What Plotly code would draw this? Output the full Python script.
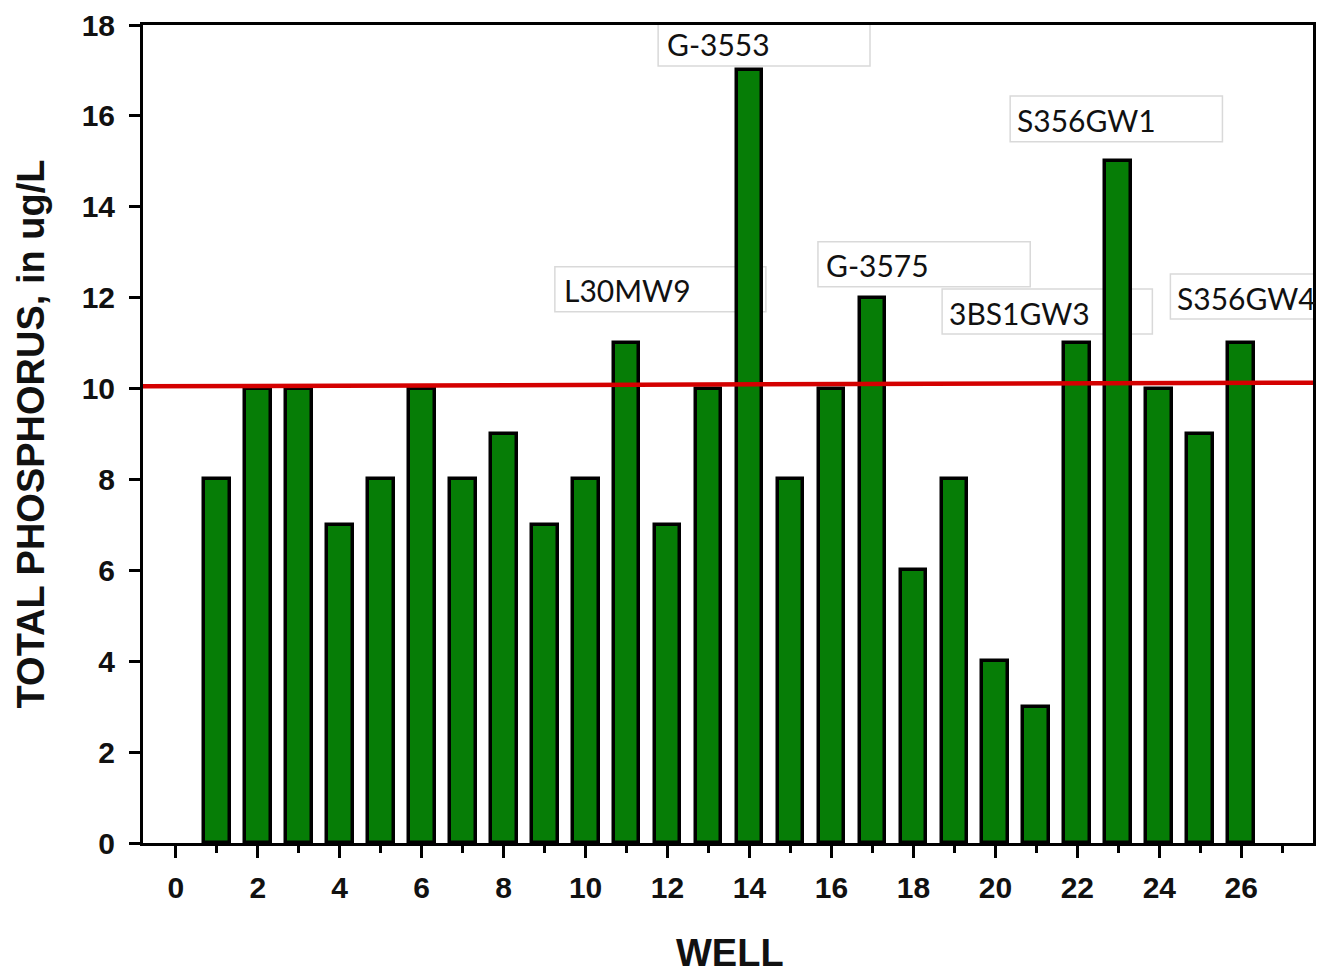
import plotly.graph_objects as go

# ---- data ----
wells = list(range(1, 27))
phosphorus = [8, 10, 10, 7, 8, 10, 8, 9, 7, 8, 11, 7, 10, 17, 8, 10, 12, 6, 8, 4, 3, 11, 15, 10, 9, 11]
threshold_x = [-0.8, 27.75]
threshold_y = [10.05, 10.13]
label_names = ["G-3553", "L30MW9", "G-3575", "3BS1GW3", "S356GW1", "S356GW4"]
label_x = [11.94, 9.42, 15.82, 18.82, 20.48, 24.39]
label_y = [17.58, 12.17, 12.72, 11.66, 15.91, 11.99]
box_x0 = [11.77, 9.25, 15.67, 18.70, 20.36, 24.27]
box_x1 = [16.94, 14.40, 20.85, 23.83, 25.54, 29.44]
box_y0 = [17.10, 11.69, 12.24, 11.20, 15.43, 11.53]
box_y1 = [18.11, 12.68, 13.23, 12.19, 16.44, 12.52]

fig = go.Figure()
fig.add_trace(go.Bar(
    x=wells, y=phosphorus, width=0.63,
    marker=dict(color="#067d06", line=dict(color="black", width=3.5)),
    showlegend=False, hoverinfo="x+y",
))
fig.add_trace(go.Scatter(
    x=threshold_x, y=threshold_y, mode="lines",
    line=dict(color="#d40000", width=4.5), showlegend=False, hoverinfo="skip",
))

for name, tx, ty, x0, x1, y0, y1 in zip(label_names, label_x, label_y, box_x0, box_x1, box_y0, box_y1):
    fig.add_shape(type="rect", xref="x", yref="y", x0=x0, x1=x1, y0=y0, y1=y1,
                  line=dict(color="#d9d9d9", width=1.5), fillcolor="rgba(255,255,255,0)", layer="below")
    fig.add_annotation(x=tx, y=ty, xref="x", yref="y", text=name, showarrow=False,
                       xanchor="left", yanchor="middle",
                       font=dict(family="Lato", size=30, color="#111111"))

tick_font = dict(family="Liberation Sans", size=30, color="#111111", weight="bold")
title_font = dict(family="Liberation Sans", size=38, color="#111111", weight="bold")

# x-axis title as a paper annotation
fig.add_annotation(x=0.5017, y=-0.1345, xref="paper", yref="paper", text="WELL",
                   showarrow=False, xanchor="center", yanchor="middle", font=title_font)

fig.update_layout(
    width=1318, height=970,
    margin=dict(l=143, r=5, t=25, b=127, autoexpand=False),
    plot_bgcolor="white", paper_bgcolor="white",
    bargap=0,
    xaxis=dict(
        range=[-0.8, 27.75], tick0=0, dtick=2, automargin=False,
        showline=True, linecolor="black", linewidth=3, mirror=True,
        ticks="outside", ticklen=12, tickwidth=3, tickcolor="black",
        minor=dict(dtick=1, tick0=0, ticks="outside", ticklen=7, tickwidth=3, tickcolor="black", showgrid=False),
        showgrid=False, zeroline=False,
        tickfont=tick_font, ticklabelstandoff=4,
    ),
    yaxis=dict(
        range=[0, 18], tick0=0, dtick=2, automargin=False,
        showline=True, linecolor="black", linewidth=3, mirror=True,
        ticks="outside", ticklen=11, tickwidth=3, tickcolor="black",
        showgrid=False, zeroline=False,
        tickfont=tick_font, ticklabelstandoff=8,
        title=dict(text="TOTAL PHOSPHORUS, in ug/L", font=title_font, standoff=26),
    ),
)

fig.write_html("out.html", config={"displayModeBar": False},
               post_script="document.body.style.margin='0';document.body.style.overflow='hidden';")
